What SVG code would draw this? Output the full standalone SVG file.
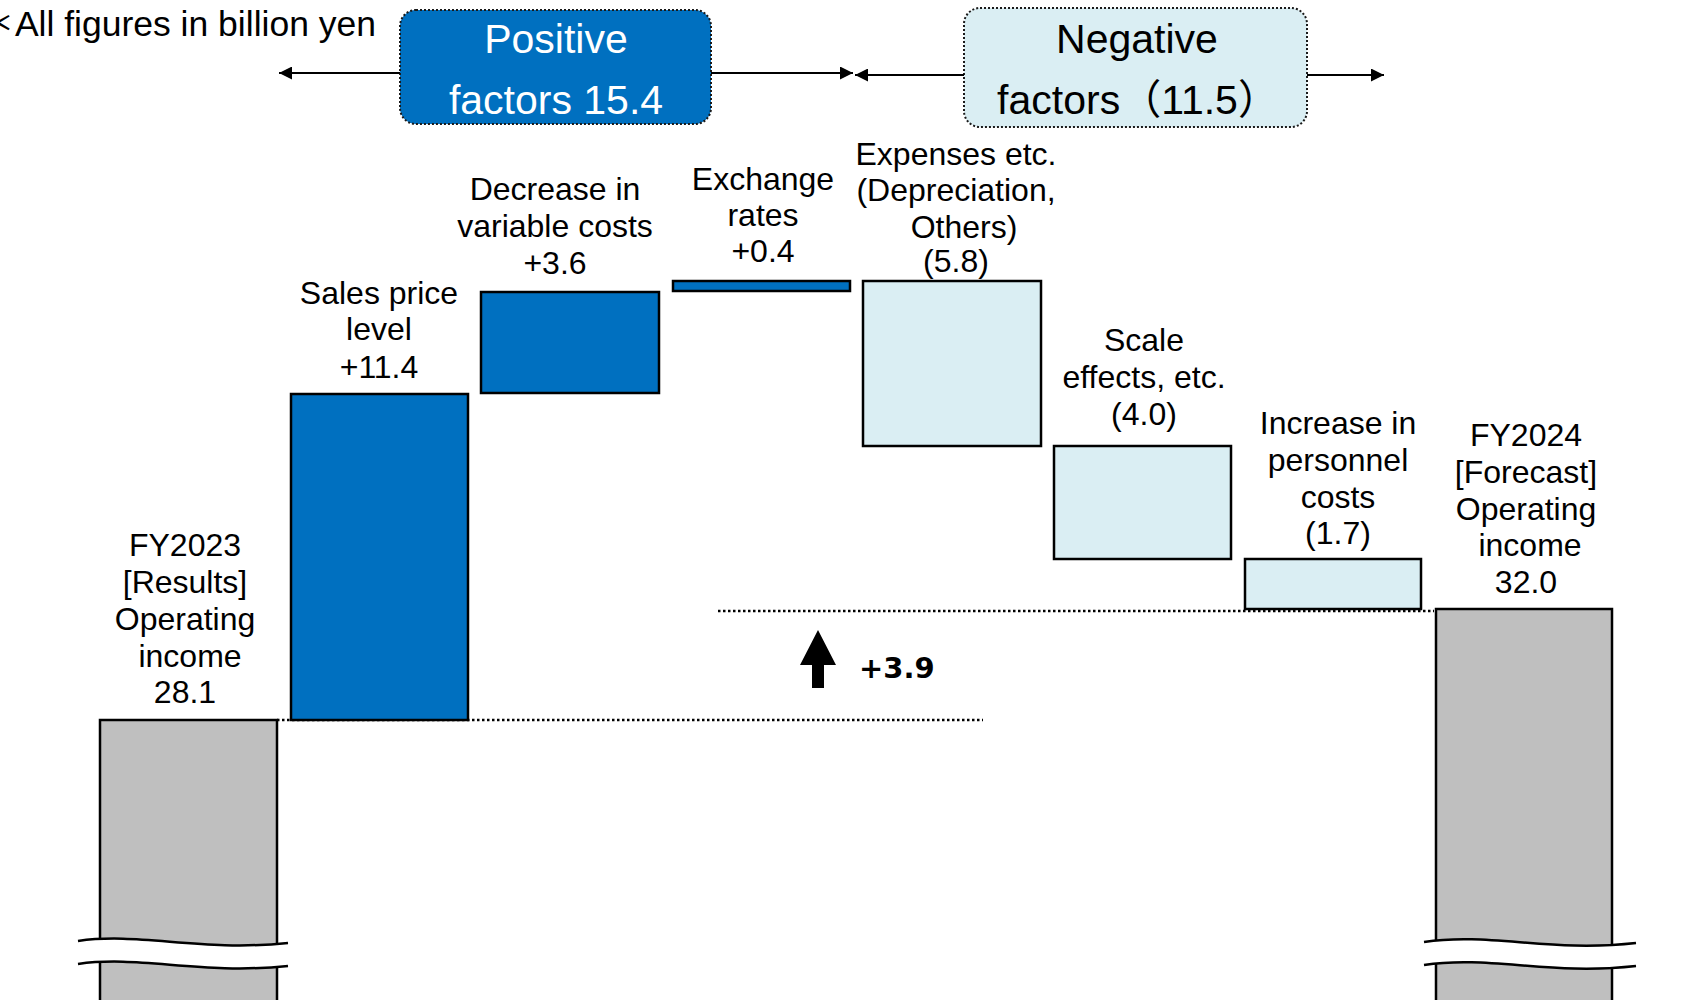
<svg xmlns="http://www.w3.org/2000/svg" width="1703" height="1000" viewBox="0 0 1703 1000">
<defs>
<style>
.lbl{font-family:"Liberation Sans",Arial,sans-serif;font-size:32px;fill:#000;text-anchor:middle}
.hdr{font-family:"Liberation Sans","Noto Sans CJK JP",sans-serif;font-size:41px;text-anchor:middle}
.bar{stroke:#000;stroke-width:2.5}
.pos{fill:#0070C0}
.neg{fill:#DAEEF3}
.tot{fill:#BFBFBF}
.dot{stroke:#000;stroke-width:2.5;stroke-dasharray:2.5 2.5;fill:none}
.arr{stroke:#000;stroke-width:2;fill:none;marker-end:url(#ah)}
.brk{stroke:#000;stroke-width:2.5;fill:none}
</style>
<marker id="ah" viewBox="0 0 10 10" refX="10" refY="5" markerWidth="13" markerHeight="13" markerUnits="userSpaceOnUse" orient="auto">
<path d="M0,0 L10,5 L0,10 Z" fill="#000"/>
</marker>
</defs>

<text x="376" y="36" font-family="Liberation Sans,'Noto Sans CJK JP',sans-serif" font-size="35.5" text-anchor="end">＊All figures in billion yen</text>

<g id="header-positive">
<rect x="400" y="10" width="311" height="114" rx="16" fill="#0070C0" stroke="#1a1a1a" stroke-width="2" stroke-dasharray="2 2"/>
<text class="hdr" x="556" y="53" fill="#fff">Positive</text>
<text class="hdr" x="556" y="114" fill="#fff">factors 15.4</text>
</g>
<g id="header-negative">
<rect x="964" y="8" width="343" height="119" rx="16" fill="#DAEEF3" stroke="#1a1a1a" stroke-width="2" stroke-dasharray="2 2"/>
<text class="hdr" x="1137" y="53" fill="#000">Negative</text>
<text class="hdr" x="1138" y="114" fill="#000">factors（11.5）</text>
</g>

<g id="connectors">
<line class="arr" x1="400" y1="73" x2="279" y2="73"/>
<line class="arr" x1="711" y1="73" x2="853" y2="73"/>
<line class="arr" x1="964" y1="75" x2="855" y2="75"/>
<line class="arr" x1="1307" y1="75" x2="1384" y2="75"/>
<line class="dot" x1="277" y1="720" x2="983" y2="720"/>
<line class="dot" x1="718" y1="611" x2="1434" y2="611"/>
<path d="M818,630 L836,665 L824,665 L824,688 L812,688 L812,665 L800,665 Z" fill="#000"/>
</g>
<text x="859" y="678" font-family="'DejaVu Sans',Verdana,sans-serif" font-weight="bold" font-size="29">+3.9</text>

<g id="bar-fy2023">
<rect class="bar tot" x="100" y="720" width="177" height="300"/>
<path d="M78,941 C140,932 200,952 288,943 L288,966 C200,975 140,955 78,964 Z" fill="#fff"/>
<path class="brk" d="M78,941 C140,932 200,952 288,943"/>
<path class="brk" d="M78,964 C140,955 200,975 288,966"/>
<text class="lbl" x="185" y="556">FY2023</text>
<text class="lbl" x="185" y="593">[Results]</text>
<text class="lbl" x="185" y="630">Operating</text>
<text class="lbl" x="190" y="667">income</text>
<text class="lbl" x="185" y="703">28.1</text>
</g>

<g id="bar-sales-price">
<rect class="bar pos" x="291" y="394" width="177" height="326"/>
<text class="lbl" x="379" y="304">Sales price</text>
<text class="lbl" x="379" y="340">level</text>
<text class="lbl" x="379" y="378">+11.4</text>
</g>

<g id="bar-variable-costs">
<rect class="bar pos" x="481" y="292" width="178" height="101"/>
<text class="lbl" x="555" y="200">Decrease in</text>
<text class="lbl" x="555" y="237">variable costs</text>
<text class="lbl" x="555" y="274">+3.6</text>
</g>

<g id="bar-exchange">
<rect class="bar pos" x="673" y="281" width="177" height="10"/>
<text class="lbl" x="763" y="190">Exchange</text>
<text class="lbl" x="763" y="226">rates</text>
<text class="lbl" x="763" y="262">+0.4</text>
</g>

<g id="bar-expenses">
<rect class="bar neg" x="863" y="281" width="178" height="165"/>
<text class="lbl" x="956" y="165">Expenses etc.</text>
<text class="lbl" x="956" y="201">(Depreciation,</text>
<text class="lbl" x="964" y="238">Others)</text>
<text class="lbl" x="956" y="272">(5.8)</text>
</g>

<g id="bar-scale">
<rect class="bar neg" x="1054" y="446" width="177" height="113"/>
<text class="lbl" x="1144" y="351">Scale</text>
<text class="lbl" x="1144" y="388">effects, etc.</text>
<text class="lbl" x="1144" y="425">(4.0)</text>
</g>

<g id="bar-personnel">
<rect class="bar neg" x="1245" y="559" width="176" height="50"/>
<text class="lbl" x="1338" y="434">Increase in</text>
<text class="lbl" x="1338" y="471">personnel</text>
<text class="lbl" x="1338" y="508">costs</text>
<text class="lbl" x="1338" y="544">(1.7)</text>
</g>

<g id="bar-fy2024">
<rect class="bar tot" x="1436" y="609" width="176" height="420"/>
<path d="M1424,942 C1490,932 1550,953 1636,943 L1636,966 C1550,976 1490,955 1424,965 Z" fill="#fff"/>
<path class="brk" d="M1424,942 C1490,932 1550,953 1636,943"/>
<path class="brk" d="M1424,965 C1490,955 1550,976 1636,966"/>
<text class="lbl" x="1526" y="446">FY2024</text>
<text class="lbl" x="1526" y="483">[Forecast]</text>
<text class="lbl" x="1526" y="520">Operating</text>
<text class="lbl" x="1530" y="556">income</text>
<text class="lbl" x="1526" y="593">32.0</text>
</g>
</svg>
